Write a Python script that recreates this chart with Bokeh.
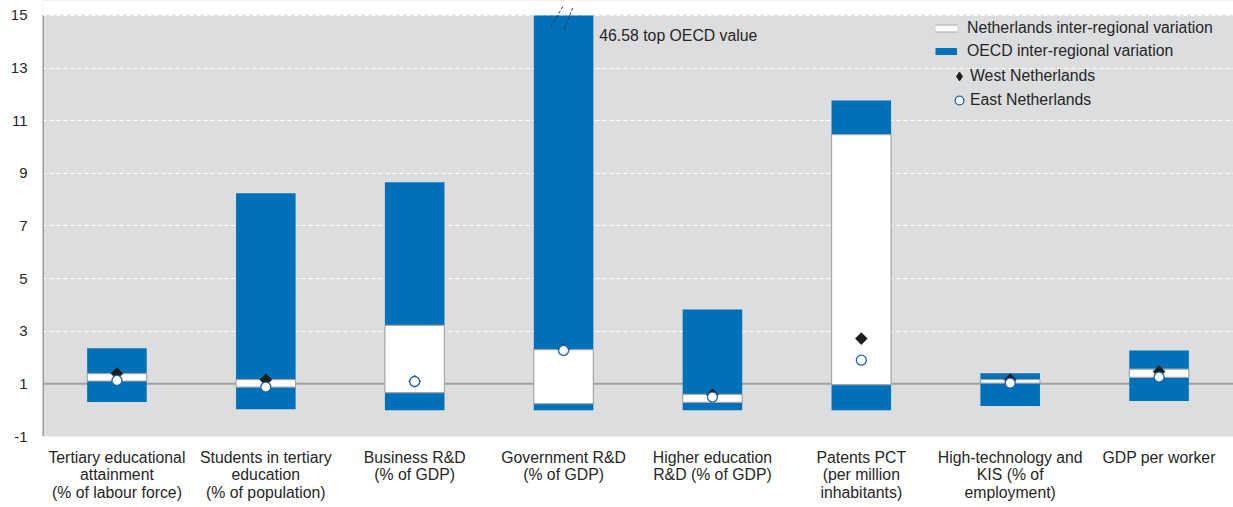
import numpy as np
from bokeh.plotting import figure
from bokeh.models import Range1d, FixedTicker, Legend, LegendItem, Label
from bokeh.embed import file_html
from bokeh.resources import INLINE

# ---------------- data ----------------
categories = [
    "Tertiary educational\nattainment\n(% of labour force)",
    "Students in tertiary\neducation\n(% of population)",
    "Business R&D\n(% of GDP)",
    "Government R&D\n(% of GDP)",
    "Higher education\nR&D (% of GDP)",
    "Patents PCT\n(per million\ninhabitants)",
    "High-technology and\nKIS (% of\nemployment)",
    "GDP per worker",
]
oecd_min = [0.31, 0.04, 0.00, 0.00, 0.00, 0.00, 0.16, 0.35]
oecd_max = [2.35, 8.24, 8.66, 46.58, 3.83, 11.77, 1.40, 2.27]
nl_min = [1.11, 0.88, 0.67, 0.25, 0.30, 0.97, 1.03, 1.25]
nl_max = [1.39, 1.16, 3.22, 2.30, 0.60, 10.47, 1.16, 1.56]
west = [1.39, 1.16, 1.10, 2.30, 0.59, 2.72, 1.16, 1.47]
east = [1.13, 0.88, 1.09, 2.27, 0.50, 1.90, 1.03, 1.26]
y_ticks = [-1, 1, 3, 5, 7, 9, 11, 13, 15]
y_tick_labels = ["-1", "1", "3", "5", "7", "9", "11", "13", "15"]
top_note = "46.58 top OECD value"
legend_labels = ["Netherlands inter-regional variation", "OECD inter-regional variation",
                 "West Netherlands", "East Netherlands"]

# ---------------- style ----------------
BLUE = "#0070B8"
BG = "#DCDDDE"
AXIS_GRAY = "#A0A0A0"
TXT = "#262626"
FONT = "Liberation Sans"

y_min, y_max = y_ticks[0], y_ticks[-1]
y_end = y_max + 0.57
x_start, x_end = 0.0, 8.0
xs = [i + 0.5 for i in range(len(categories))]
oecd_top = [min(v, y_max) for v in oecd_max]

p = figure(width=1233, height=507,
           x_range=Range1d(x_start, x_end), y_range=Range1d(y_min, y_end),
           output_backend="svg", toolbar_location=None,
           min_border_left=42, min_border_right=0, min_border_top=0, min_border_bottom=71,
           background_fill_color=BG, border_fill_color="white", outline_line_color=None)

# grid
p.xgrid.visible = False
p.ygrid.ticker = FixedTicker(ticks=y_ticks)
p.ygrid.grid_line_color = "white"
p.ygrid.grid_line_dash = "4 3"
p.ygrid.grid_line_width = 1

# y axis
p.yaxis.ticker = FixedTicker(ticks=y_ticks)
p.yaxis.major_label_overrides = {t: s for t, s in zip(y_ticks, y_tick_labels)}
p.yaxis.axis_line_color = None
p.yaxis.major_tick_line_color = None
p.yaxis.minor_tick_line_color = None
p.yaxis.major_tick_out = 0
p.yaxis.major_label_standoff = 15
p.yaxis.major_label_text_font = FONT
p.yaxis.major_label_text_font_size = "15px"
p.yaxis.major_label_text_color = TXT

# x axis
p.xaxis.ticker = FixedTicker(ticks=xs)
p.xaxis.major_label_overrides = {x: c for x, c in zip(xs, categories)}
p.xaxis.axis_line_color = None
p.xaxis.major_tick_line_color = None
p.xaxis.minor_tick_line_color = None
p.xaxis.major_tick_out = 0
p.xaxis.major_label_standoff = 12
p.xaxis.major_label_text_font = FONT
p.xaxis.major_label_text_font_size = "15.8px"
p.xaxis.major_label_text_color = TXT
p.xaxis.major_label_text_line_height = 1.05

# white strip above the top tick
p.quad(left=x_start, right=x_end, bottom=y_max + 0.03, top=y_end,
       fill_color="white", line_color=None)

# base line at 1 and left axis line
p.segment(x0=x_start, x1=x_end, y0=1, y1=1, line_color=AXIS_GRAY, line_width=2)
p.segment(x0=x_start, x1=x_start, y0=y_min, y1=y_max, line_color=AXIS_GRAY, line_width=3)

# bars
p.vbar(x=xs, width=0.4, bottom=oecd_min, top=oecd_top, fill_color=BLUE, line_color=None)
p.vbar(x=xs, width=0.4, bottom=nl_min, top=nl_max, fill_color="white",
       line_color="#A8A8A8", line_width=1.2)

# markers
p.scatter(x=xs, y=west, marker="square", angle=np.pi / 4, size=8.5,
          fill_color="#1E1E1E", line_color="#1E1E1E", line_width=0.5)
r_east = p.scatter(x=xs, y=east, marker="circle", size=10, fill_color="white",
                   line_color="#1F63A5", line_width=1.3)

# axis break marks on the clipped bar + note
bx = xs[3]
p.segment(x0=[bx - 0.084, bx + 0.005], y0=[y_max - 0.41, y_max - 0.53],
          x1=[bx - 0.005, bx + 0.062], y1=[y_max + 0.34, y_max + 0.31],
          line_color="#333333", line_width=1, line_dash="3 2")
p.add_layout(Label(x=bx + 0.24, y=y_max - 0.76, text=top_note, text_baseline="middle",
                   text_font=FONT, text_font_size="15.8px", text_color=TXT))

# legend helper renderers (a single NaN point, nothing drawn in the plot)
nan = np.array([np.nan])
lg_nl_b = p.line(x=nan, y=nan, line_color="#A8A8A8", line_width=8)
lg_nl_f = p.line(x=nan, y=nan, line_color="white", line_width=6)
lg_oecd = p.line(x=nan, y=nan, line_color=BLUE, line_width=7)
lg_west = p.scatter(x=nan, y=nan, marker="diamond", size=10, fill_color="#1E1E1E",
                    line_color="#1E1E1E")

leg1 = Legend(items=[LegendItem(label=legend_labels[0], renderers=[lg_nl_b, lg_nl_f]),
                     LegendItem(label=legend_labels[1], renderers=[lg_oecd])],
              location=(893, 375), glyph_width=22, glyph_height=20, label_height=20,
              spacing=3, padding=0, margin=0, label_standoff=10,
              background_fill_alpha=0, border_line_color=None,
              label_text_font=FONT, label_text_font_size="15.8px", label_text_color=TXT)
leg2 = Legend(items=[LegendItem(label=legend_labels[2], renderers=[lg_west]),
                     LegendItem(label=legend_labels[3], renderers=[r_east])],
              location=(906, 325), glyph_width=22, glyph_height=22, label_height=20,
              spacing=2, padding=0, margin=0, label_standoff=-3,
              background_fill_alpha=0, border_line_color=None,
              label_text_font=FONT, label_text_font_size="15.8px", label_text_color=TXT)
p.add_layout(leg1, "center")
p.add_layout(leg2, "center")

open("out.html", "w").write(file_html(p, INLINE))
